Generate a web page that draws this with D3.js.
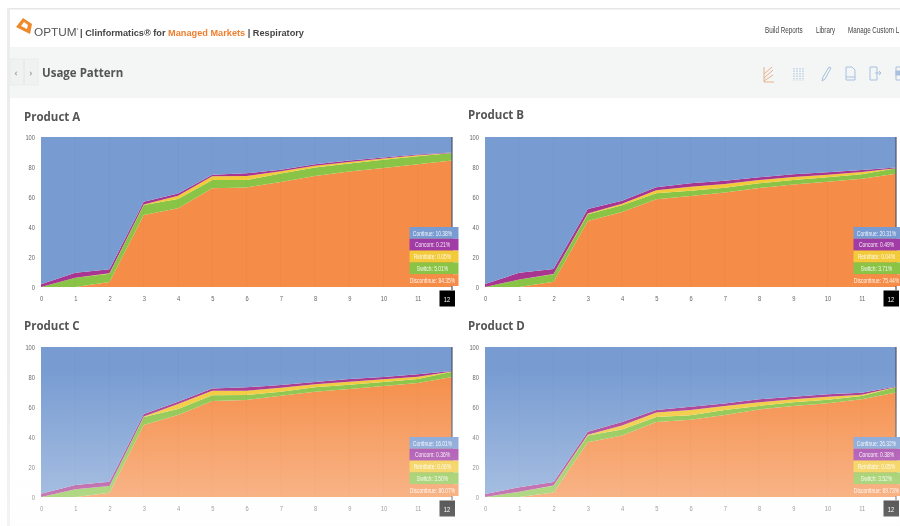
<!DOCTYPE html>
<html><head><meta charset="utf-8">
<script src="https://cdn.jsdelivr.net/npm/d3@7"></script>
<style>html,body{margin:0;padding:0;background:#fff;overflow:hidden}svg{display:block;filter:blur(.45px)}
text{font-family:"Open Sans",sans-serif}
.arial,.arial text{font-family:"Liberation Sans",sans-serif}</style></head>
<body><svg id="c" width="900" height="526"></svg>
<script>
const months = [0,1,2,3,4,5,6,7,8,9,10,11,12];
const yTicks = [0,20,40,60,80,100];
const productNames = ["Product A","Product B","Product C","Product D"];
const seriesNames = ["Discontinue","Switch","Reinitiate","Concom","Continue"];
const seriesColors = ["#f58d48","#8ac447","#f2ca3a","#a8358f","#789cd2"];
const navLinks = ["Build Reports","Library","Manage Custom L"];

const discontinueA = [0,0,3.3,48,52.5,65.8,66.4,70,74,77,79.3,81.8,84.35];
const switchA      = [0,6.2,5.6,6.6,6.2,5.6,4.9,5.6,5.6,5.4,5.5,5.4,5.01];
const reinitiateA  = [0,0,0.2,0.4,2.2,2.4,2.7,1.6,1.3,1,0.8,0.6,0.05];
const concomA      = [1.8,3.3,2.7,1.8,1.5,1.1,1.8,0.9,0.9,0.9,0.8,0.6,0.21];
const continueA    = [98.2,90.5,88.2,43.2,37.6,25.1,24.2,21.9,18.2,15.7,13.6,11.6,10.38];

const discontinueB = [0,0,3.5,44,50,58.5,60.7,63,66,68.4,70.2,72.2,75.44];
const switchB      = [0,5,5,4.5,4.5,4,3.5,3.2,3.1,2.9,2.9,2.9,3.71];
const reinitiateB  = [0,0,0.2,0.5,1,2,2.7,2.5,2.2,2,1.8,1.6,0.04];
const concomB      = [2,4.5,3.3,3,2,2,2.2,2.2,1.8,1.8,1.6,1.3,0.49];
const continueB    = [98,90.5,88,48,42.5,33.5,30.9,29.1,26.9,24.9,23.5,22,20.31];

const discontinueC = [0,0,2.9,48,54.7,64,64.7,67.5,70.2,72,74,76,80.07];
const switchC      = [0,5.1,4.4,5.4,4,3.8,3.3,2.7,2.9,2.9,2.7,2.7,3.5];
const reinitiateC  = [0,0,0.1,0.2,3.3,3,2.9,2.7,2,2,1.8,1.5,0.06];
const concomC      = [2.2,2.9,2.8,1.7,1.5,1.5,2.2,1.8,1.6,1.8,1.5,1.6,0.36];
const continueC    = [97.8,92,89.8,44.7,36.5,27.7,26.9,25.3,23.3,21.3,20,18.2,16.01];

const discontinueD = [0,0,3,36.5,41,50,51.5,54.7,58.4,60.7,62.5,65.1,69.73];
const switchD      = [0,3.5,4.5,4.5,4,3.3,3,3.3,2.3,2.4,2.4,2.2,3.52];
const reinitiateD  = [0,0,0.1,0.5,2.7,3,3.5,2.7,2.4,2,2,0.9,0.05];
const concomD      = [2,3,2.4,2,2.3,1.7,2.2,1.7,2,1.8,1.6,1.3,0.38];
const continueD    = [98,93.5,90,56.5,50,42,39.8,37.6,34.9,33.1,31.5,30.5,26.32];

const tipContinue   = ["10.38%","20.31%","16.01%","26.32%"];
const tipConcom     = ["0.21%","0.49%","0.36%","0.38%"];
const tipReinitiate = ["0.05%","0.04%","0.06%","0.05%"];
const tipSwitch     = ["5.01%","3.71%","3.50%","3.52%"];
const tipDiscontinue= ["84.35%","75.44%","80.07%","69.73%"];

const productData = [
 [discontinueA,switchA,reinitiateA,concomA,continueA],
 [discontinueB,switchB,reinitiateB,concomB,continueB],
 [discontinueC,switchC,reinitiateC,concomC,continueC],
 [discontinueD,switchD,reinitiateD,concomD,continueD]];

const svg = d3.select("#c");
const W=900,H=526;
const defs = svg.append("defs");
const fade = defs.append("linearGradient").attr("id","fade").attr("x1",0).attr("x2",0).attr("y1",0).attr("y2",1);
fade.append("stop").attr("offset",0).attr("stop-color","#fff").attr("stop-opacity",0);
fade.append("stop").attr("offset",1).attr("stop-color","#fdfdfd").attr("stop-opacity",.42);

// condensed text: a font squeezed horizontally
function narrow(parent,x,y,str,size,fill,sx,anchor){
 return parent.append("text").attr("class","arial").attr("transform",`translate(${x},${y}) scale(${sx},1)`)
  .attr("text-anchor",anchor||"start").attr("font-size",size).attr("fill",fill).text(str);
}

// page chrome
svg.append("rect").attr("x",8).attr("y",8).attr("width",W-8).attr("height",1.5).attr("fill","#e6e6e6");
svg.append("rect").attr("x",7).attr("y",8).attr("width",3).attr("height",H-8).attr("fill","#ececec");
svg.append("rect").attr("x",10).attr("y",47).attr("width",W-10).attr("height",51).attr("fill","#f4f6f6");
svg.append("rect").attr("x",10).attr("y",59).attr("width",28).attr("height",26).attr("fill","#f0f2f2").attr("stroke","#e8e8e8").attr("stroke-width",.6);
svg.append("line").attr("x1",24).attr("x2",24).attr("y1",59).attr("y2",85).attr("stroke","#dfdfdf").attr("stroke-width",.8);
svg.append("text").attr("x",16).attr("y",76).attr("text-anchor","middle").attr("font-size",9).attr("fill","#aaa").attr("font-weight",700).text("‹");
svg.append("text").attr("x",31).attr("y",76).attr("text-anchor","middle").attr("font-size",9).attr("fill","#aaa").attr("font-weight",700).text("›");
// logo
svg.append("path").attr("fill-rule","evenodd").attr("d","M16 27 L23 18 L32 24 L30 34 Z M21 26 L24 22 L28 25 L27 29 Z").attr("fill","#ee8a2c");
const hdr = svg.append("text").attr("class","arial").attr("x",34).attr("y",36).attr("fill","#555");
hdr.append("tspan").attr("font-size",11.8).text("OPTUM");
hdr.append("tspan").attr("font-size",5).attr("dy",-4).text("°");
hdr.append("tspan").attr("dy",4).attr("dx",1.5).attr("font-weight",700).attr("fill","#444").attr("font-size",9.2).text("| Clinformatics® for ");
hdr.append("tspan").attr("font-weight",700).attr("fill","#ee7f2f").attr("font-size",9.2).text("Managed Markets");
hdr.append("tspan").attr("font-weight",700).attr("fill","#444").attr("font-size",9.2).text(" | Respiratory");
// nav links
const navX=[765,816,848];
navLinks.forEach((t,i)=>narrow(svg,navX[i],33,t,9.5,"#444",.66));
svg.append("text").attr("x",42).attr("y",77).attr("font-size",11.5).attr("font-weight",700).attr("fill","#555").text("Usage Pattern");
// toolbar icons
const ic = svg.append("g").attr("fill","none").attr("stroke","#a9c0de").attr("stroke-width",1);
ic.append("path").attr("stroke","#e8b08c").attr("d","M764 67V82H774M764 78L773 70M764 74L772 67M764 81L773 75");
ic.append("path").attr("stroke-dasharray","1.5 1").attr("d","M794 68V81M797 68V81M800 68V81M803 68V81");
ic.append("path").attr("d","M822 81L823 77L829 67L831 68L825 79Z");
ic.append("path").attr("d","M846 67H852L855 70V80H846Z M846 77H855");
ic.append("path").attr("d","M870 67H877V80H870Z M875 73H881M879 71L881 73L879 75");
ic.append("path").attr("d","M896 67H900M896 67V80H900");
ic.append("rect").attr("x",896).attr("y",71).attr("width",4).attr("height",4).attr("fill","#a9c0de");

const layout=[{x0:41,x1:452,y0:287,y1:137,tx:24,ty:121},{x0:485,x1:896,y0:287,y1:137,tx:468,ty:119},
 {x0:41,x1:452,y0:497,y1:347,tx:24,ty:330},{x0:485,x1:896,y0:497,y1:347,tx:468,ty:330}];

productNames.forEach((name,pi)=>{
 const L=layout[pi];
 const g=svg.append("g");
 g.append("text").attr("x",L.tx).attr("y",L.ty).attr("font-size",11.5).attr("font-weight",700).attr("fill","#555").text(name);
 const x=d3.scaleLinear().domain([0,12]).range([L.x0,L.x1]);
 const y=d3.scaleLinear().domain([0,100]).range([L.y0,L.y1]);
 const rows=months.map((m,i)=>{const r={m};seriesNames.forEach((s,k)=>r[s]=productData[pi][k][i]);return r;});
 const stack=d3.stack().keys(seriesNames).offset(d3.stackOffsetExpand)(rows);
 const pct=d3.scaleLinear().domain([0,1]).range([0,100]);
 const area=d3.area().x(d=>x(d.data.m)).y0(d=>y(pct(d[0]))).y1(d=>y(pct(d[1])));
 g.selectAll("path.s").data(stack).join("path").attr("class","s").attr("d",area).attr("fill",(d,i)=>seriesColors[i]);
 // faint month gridlines
 g.selectAll("line.g").data(months.slice(1,-1)).join("line").attr("class","g")
  .attr("x1",d=>x(d)).attr("x2",d=>x(d)).attr("y1",L.y1).attr("y2",L.y0).attr("stroke","#000").attr("stroke-opacity",.025);
 // crosshair
 g.append("line").attr("x1",x(12)).attr("x2",x(12)).attr("y1",L.y1).attr("y2",L.y0+3).attr("stroke","#4a5568").attr("stroke-width",1.2);
 // axes
 const ax=g.append("g").attr("class","arial").attr("transform",`translate(0,${L.y0+14})`)
   .call(d3.axisBottom(x).tickValues(months.slice(0,-1)).tickSize(0).tickPadding(0).tickFormat(d3.format("d")));
 ax.select(".domain").remove();
 ax.selectAll("text").attr("font-family","'Liberation Sans',sans-serif").attr("font-size",8).attr("fill","#666").attr("dy",0).attr("y",0).attr("transform","scale(.72,1)");
 const ay=g.append("g").attr("class","arial").attr("transform",`translate(${L.x0-6},0)`)
   .call(d3.axisLeft(y).tickValues(yTicks).tickSize(0).tickPadding(0));
 ay.select(".domain").remove();
 ay.selectAll("text").attr("font-family","'Liberation Sans',sans-serif").attr("font-size",8).attr("fill","#666").attr("transform","scale(.72,1)");
 // black month marker
 const bx=x(12);
 g.append("rect").attr("x",bx-12.5).attr("y",L.y0+3.5).attr("width",15.5).attr("height",16).attr("fill","#000");
 narrow(g,bx-5,L.y0+14.5,String(months[12]),8,"#fff",.72,"middle");
 // tooltip
 const tipRows=[["Continue",tipContinue[pi],seriesColors[4]],["Concom",tipConcom[pi],"#a13ba6"],["Reinitiate",tipReinitiate[pi],seriesColors[2]],["Switch",tipSwitch[pi],seriesColors[1]],["Discontinue",tipDiscontinue[pi],seriesColors[0]]];
 const tl=bx-42.5, tw=49, rh=11.8, tt=L.y0-60;
 tipRows.forEach((r,i)=>{
  g.append("rect").attr("x",tl).attr("y",tt+i*rh).attr("width",tw).attr("height",rh).attr("fill",r[2]);
  narrow(g,bx-19.5,tt+i*rh+8.6,r[0]+": "+r[1],8,"#fff",.62,"middle").attr("fill-opacity",.9);
 });
});
// washed-out haze toward the bottom of the page
svg.append("rect").attr("x",0).attr("y",370).attr("width",W).attr("height",H-370).attr("fill","url(#fade)");
</script></body></html>
